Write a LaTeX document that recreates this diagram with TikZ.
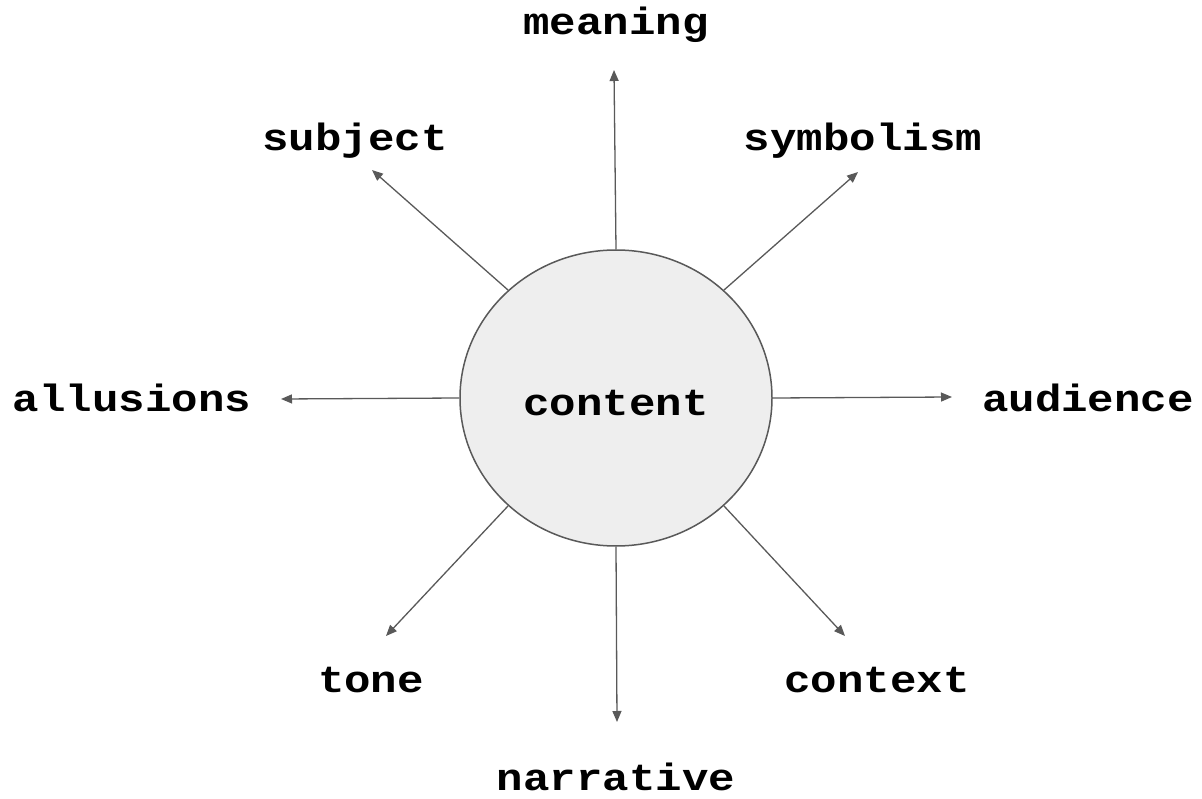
\documentclass[tikz,border=0pt]{standalone}
\usepackage{fontspec}
\setmonofont[FakeStretch=1.16]{Liberation Mono}
\usetikzlibrary{shapes.geometric,arrows.meta}
\definecolor{linec}{HTML}{595959}
\definecolor{fillc}{HTML}{EEEEEE}
\tikzset{
  lbl/.style={font=\ttfamily\bfseries\fontsize{38}{44}\selectfont, inner sep=0pt, anchor=base},
  conn/.style={draw=linec, line width=1.3pt, -{Triangle[length=11pt,width=9pt]}},
  hub/.style={ellipse, draw=linec, line width=1.5pt, fill=fillc, minimum width=312pt, minimum height=296pt, inner sep=0pt}
}
\begin{document}
\begin{tikzpicture}[x=1pt,y=-1pt]
\useasboundingbox (0,0) rectangle (1202,799);
\node[hub] (c) at (616,398) {};
\node[lbl] (content) at (616,416) {content};
\node[lbl] (meaning) at (616,35) {meaning};
\node[lbl] (subject) at (355,151) {subject};
\node[lbl] (symbolism) at (863,151) {symbolism};
\node[lbl] (allusions) at (132,411) {allusions};
\node[lbl] (audience) at (1088,411) {audience};
\node[lbl] (tone) at (371,692) {tone};
\node[lbl] (context) at (877,692) {context};
\node[lbl] (narrative) at (616,790) {narrative};
\coordinate (eMeaning) at (614,70);
\coordinate (eSymbolism) at (858,172);
\coordinate (eAudience) at (952,397);
\coordinate (eContext) at (845,636);
\coordinate (eNarrative) at (617,722);
\coordinate (eTone) at (386,636);
\coordinate (eAllusions) at (281,399);
\coordinate (eSubject) at (372,170);
\draw[conn] (c.north) -- (eMeaning);
\draw[conn] (c.45) -- (eSymbolism);
\draw[conn] (c.east) -- (eAudience);
\draw[conn] (c.-45) -- (eContext);
\draw[conn] (c.south) -- (eNarrative);
\draw[conn] (c.-135) -- (eTone);
\draw[conn] (c.west) -- (eAllusions);
\draw[conn] (c.135) -- (eSubject);
\end{tikzpicture}
\end{document}
